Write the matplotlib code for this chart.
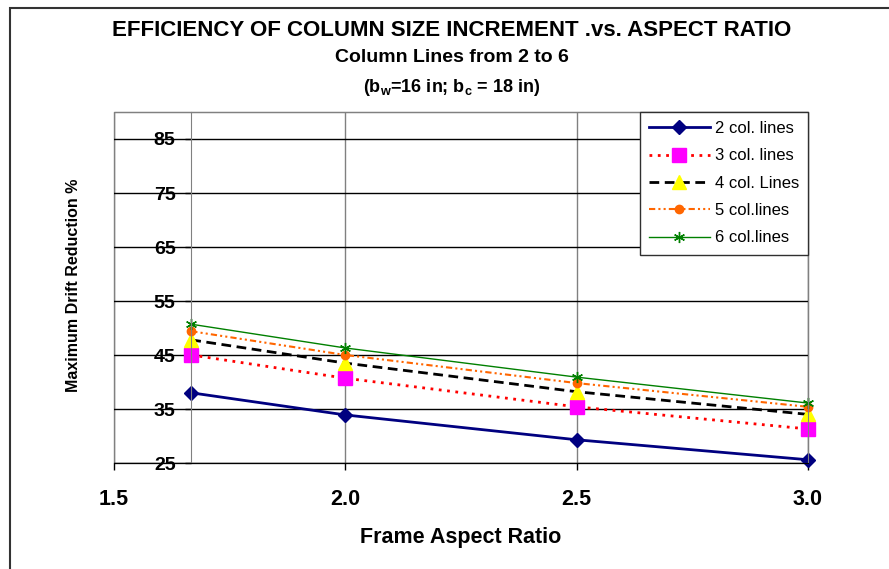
import matplotlib
matplotlib.use("Agg")
import matplotlib.pyplot as plt
from matplotlib.patches import Rectangle

plt.rcParams['font.family'] = ['Liberation Sans', 'DejaVu Sans']
plt.rcParams['mathtext.fontset'] = 'custom'
plt.rcParams['mathtext.rm'] = 'Liberation Sans:bold'

# data
aspect_ratio = [1.667, 2.0, 2.5, 3.0]
col2 = [38.0, 33.9, 29.3, 25.6]
col3 = [45.0, 40.7, 35.4, 31.3]
col4 = [47.8, 43.5, 38.2, 34.0]
col5 = [49.4, 45.0, 39.8, 35.4]
col6 = [50.7, 46.3, 40.9, 36.1]
labels = ['2 col. lines', '3 col. lines', '4 col. Lines', '5 col.lines', '6 col.lines']
x_ticks = [1.5, 2.0, 2.5, 3.0]
y_ticks = [25, 35, 45, 55, 65, 75, 85]

fig = plt.figure(figsize=(8.89, 5.69), dpi=100)
ax = fig.add_axes([114/889, 1-463/569, 694/889, 351/569])

# series styles
ax.plot(aspect_ratio, col2, color='#000080', lw=2, marker='D', ms=7.5,
        mfc='#000080', mec='#000080', label=labels[0], clip_on=False)
ax.plot(aspect_ratio, col3, color='#FF0000', lw=2, ls=(0, (1, 2)), marker='s', ms=9.5,
        mfc='#FF00FF', mec='#FF00FF', label=labels[1], clip_on=False)
ax.plot(aspect_ratio, col4, color='black', lw=2, ls=(0, (3.5, 2)), marker='^', ms=10.5,
        mfc='#FFFF00', mec='#FFFF00', label=labels[2], clip_on=False)
ax.plot(aspect_ratio, col5, color='#FF6600', lw=1.5, ls=(0, (3, 1.5, 1, 1.5, 1, 1.5)),
        marker='o', ms=6, mfc='#FF6600', mec='#FF6600', label=labels[3], clip_on=False)
ax.plot(aspect_ratio, col6, color='#008000', lw=1, marker=(6, 2, 0), ms=8, mew=1,
        mec='#008000', label=labels[4], clip_on=False)

ax.set_xlim(1.5, 3.0)
ax.set_ylim(25, 90)
ax.set_xticks(x_ticks)
ax.set_xticklabels(['%.1f' % v for v in x_ticks])
ax.set_yticks(y_ticks)

# vertical axis crosses at the first data point
ax.spines['left'].set_position(('data', aspect_ratio[0]))
ax.spines['left'].set_color('#808080')
ax.spines['top'].set_color('#808080')
ax.spines['right'].set_color('#808080')
ax.spines['bottom'].set_color('black')
ax.add_patch(Rectangle((0, 0), 1, 1, transform=ax.transAxes, fill=False,
                       ec='#808080', lw=1, zorder=0.5, clip_on=False))

ax.set_axisbelow(True)
ax.yaxis.grid(True, color='black', lw=1)
ax.xaxis.grid(True, color='#808080', lw=1)

ax.tick_params(axis='x', direction='out', length=5, width=1, pad=14, labelsize=15.5)
ax.tick_params(axis='y', direction='out', length=4.3, width=1, pad=7, labelsize=14)
for t in ax.get_xticklabels() + ax.get_yticklabels():
    t.set_fontweight('bold')

leg = ax.legend(loc='upper right', bbox_to_anchor=(1.0, 1.0), borderaxespad=0,
                fontsize=12, handlelength=3.65, handletextpad=0.3, labelspacing=0.74,
                borderpad=0.55, fancybox=False, framealpha=1, edgecolor='#303030',
                numpoints=1)
leg.get_frame().set_linewidth(1)

# titles and axis labels
fig.text(0.508, 1-30/569, 'EFFICIENCY OF COLUMN SIZE INCREMENT .vs. ASPECT RATIO',
         ha='center', va='center', fontsize=16, fontweight='bold')
fig.text(0.508, 1-58/569, 'Column Lines from 2 to 6',
         ha='center', va='center', fontsize=14, fontweight='bold')
fig.text(0.508, 1-87/569, r'(b$_\mathregular{w}$=16 in; b$_\mathregular{c}$ = 18 in)',
         ha='center', va='center', fontsize=13, fontweight='bold')
fig.text(461/889, 1-538/569, 'Frame Aspect Ratio',
         ha='center', va='center', fontsize=15.5, fontweight='bold')
fig.text(73/889, 1-285/569, 'Maximum Drift Reduction %', rotation=90,
         ha='center', va='center', fontsize=11.5, fontweight='bold')

# chart border
fig.add_artist(Rectangle((10/889, -0.5), 2, 0.5 + 1-8/569, transform=fig.transFigure,
                         fill=False, ec='#333333', lw=1.5))

fig.savefig('out.png', dpi=100)
